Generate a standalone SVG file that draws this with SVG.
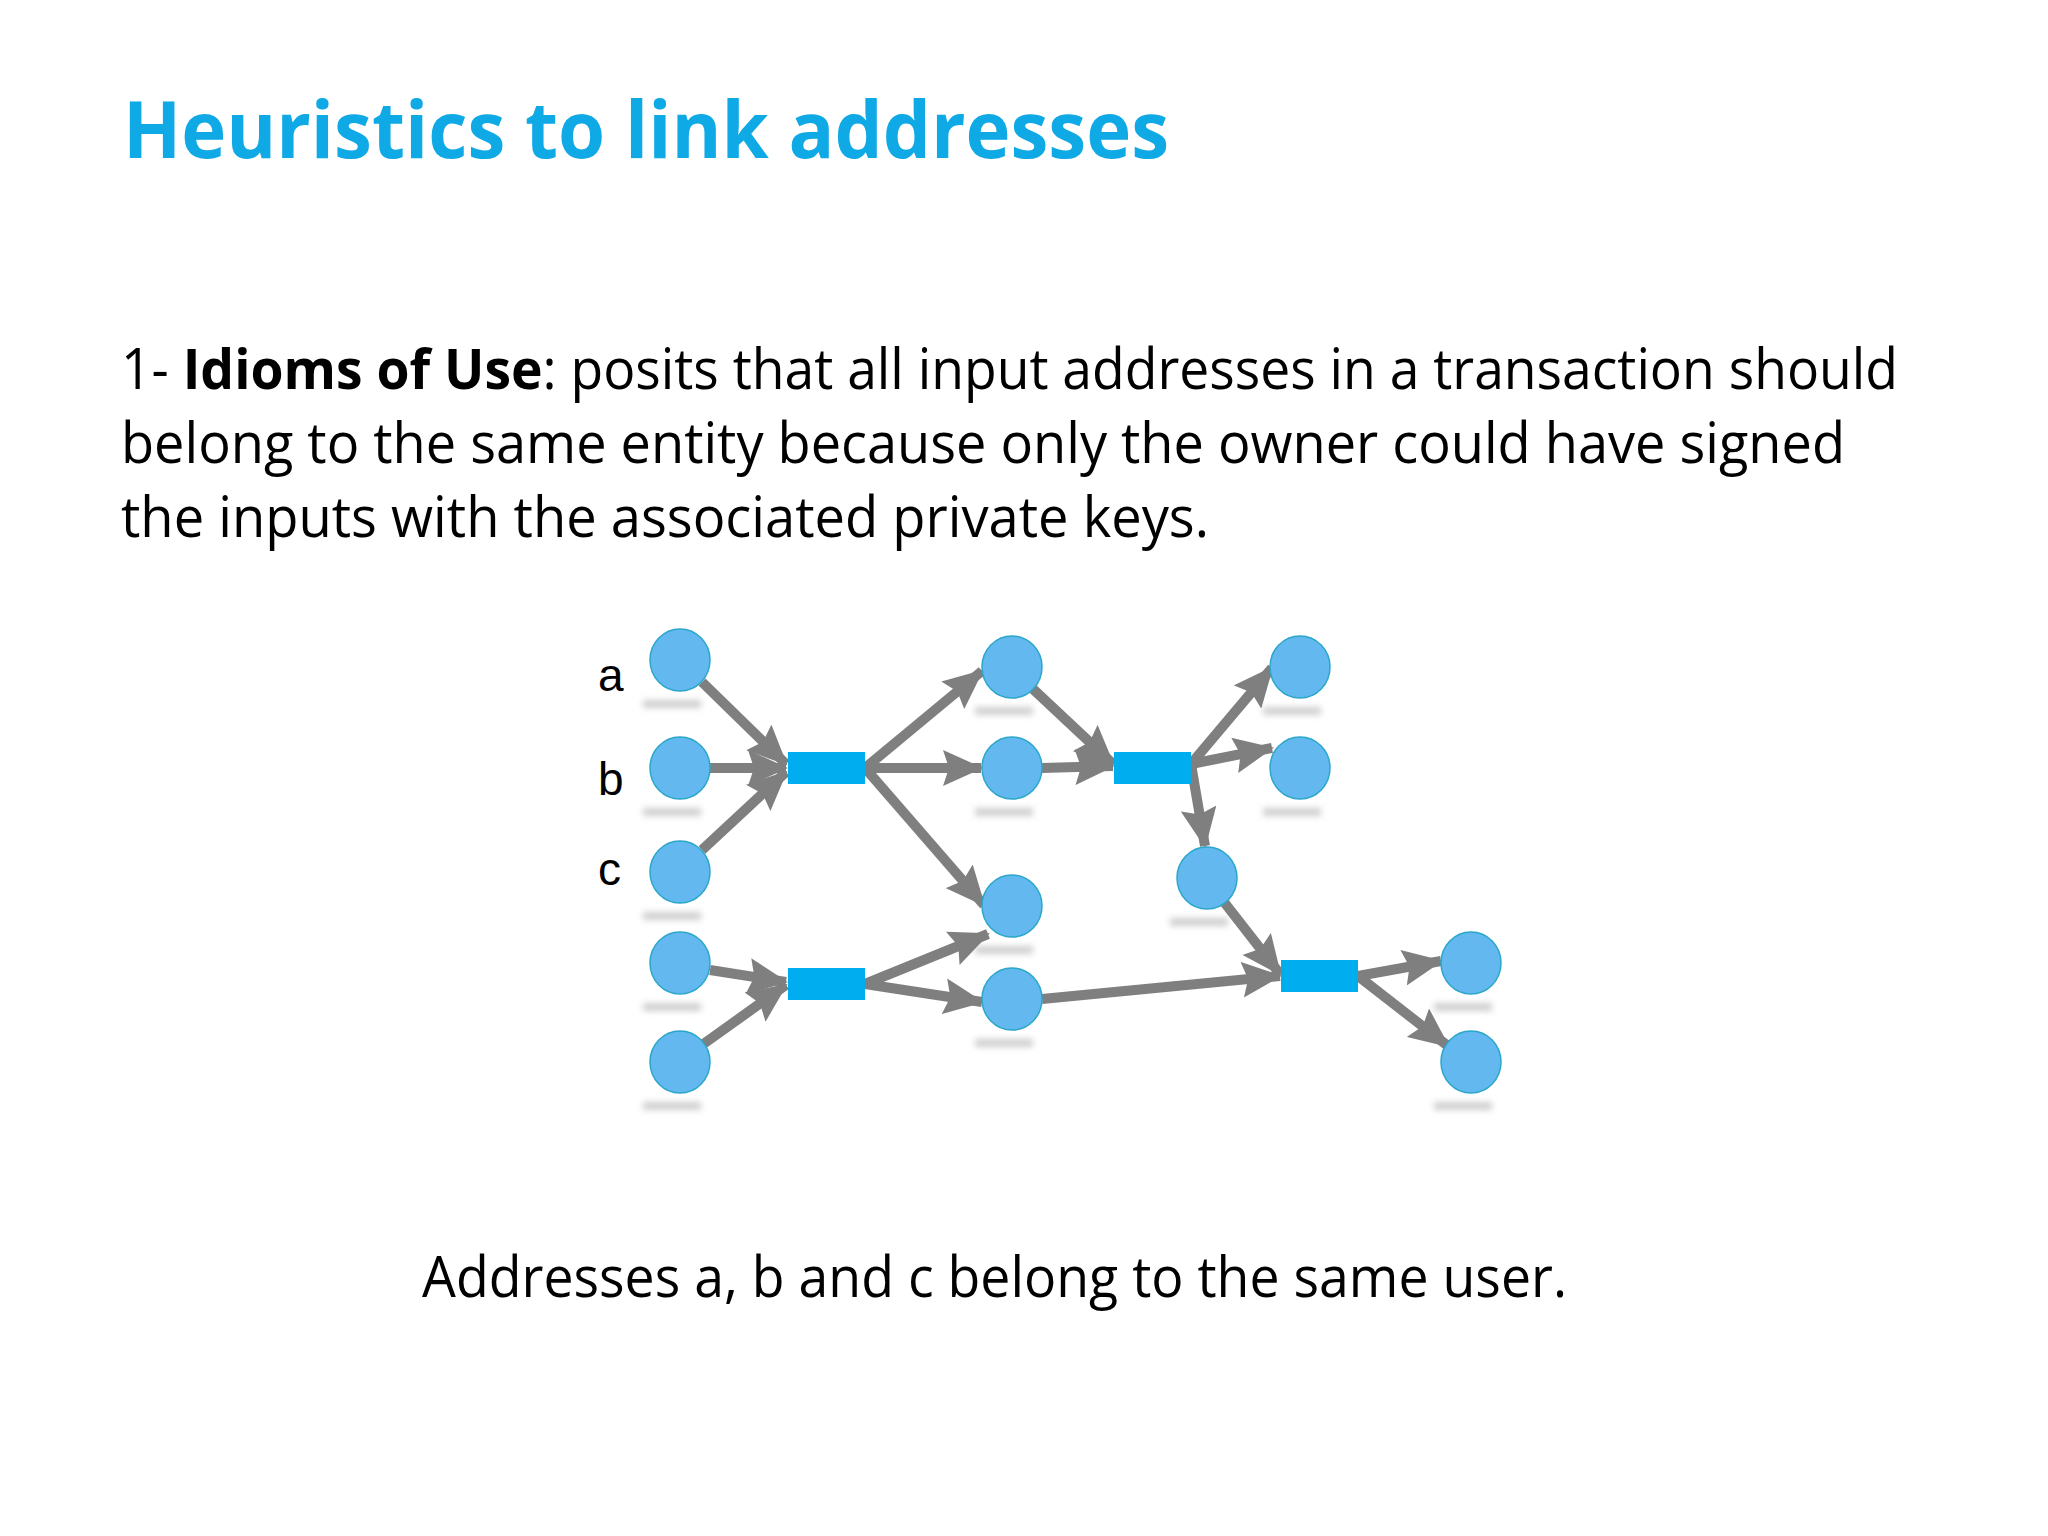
<svg xmlns="http://www.w3.org/2000/svg" width="2048" height="1536" viewBox="0 0 2048 1536">
<style>
.t{font-family:"Open Sans","Liberation Sans",sans-serif;fill:#000}
.n{fill:#63b8ef;stroke:#2aa7c9;stroke-width:1.5}
.tx{fill:#00adee}
.e{stroke:#7f7f7f;stroke-width:10;fill:none;marker-end:url(#ah)}
.sh{fill:#cfcfcf;filter:url(#bl)}
.lb{font-family:"Liberation Sans",Arial,sans-serif;font-size:46px;fill:#000}
</style>
<defs>
<marker id="ah" markerUnits="userSpaceOnUse" markerWidth="40" markerHeight="36" refX="38" refY="18" orient="auto"><path d="M0,0 L40,18 L0,36 L6,18 z" fill="#7f7f7f"/></marker>
<filter id="bl" x="-20%" y="-100%" width="140%" height="300%"><feGaussianBlur stdDeviation="3"/></filter>
</defs>
<rect width="2048" height="1536" fill="#fff"/>
<text x="123" y="158" font-family="'Open Sans','Liberation Sans',sans-serif" font-weight="bold" font-size="78" fill="#0fa9e6" textLength="1046" lengthAdjust="spacingAndGlyphs">Heuristics to link addresses</text>
<text class="t" font-size="56" x="121" y="389" textLength="1777" lengthAdjust="spacingAndGlyphs">1- <tspan font-weight="bold">Idioms of Use</tspan>: posits that all input addresses in a transaction should</text>
<text class="t" font-size="56" x="121" y="463" textLength="1724" lengthAdjust="spacingAndGlyphs">belong to the same entity because only the owner could have signed</text>
<text class="t" font-size="56" x="121" y="537" textLength="1088" lengthAdjust="spacingAndGlyphs">the inputs with the associated private keys.</text>
<text class="t" font-size="56" x="422" y="1297" textLength="1145" lengthAdjust="spacingAndGlyphs">Addresses a, b and c belong to the same user.</text>
<g id="labels">
<text class="lb" x="598" y="691">a</text>
<text class="lb" x="598" y="795">b</text>
<text class="lb" x="598" y="885">c</text>
</g>
<g id="shadows">
<rect class="sh" x="643" y="700" width="58" height="8"/><rect class="sh" x="643" y="808" width="58" height="8"/><rect class="sh" x="643" y="912" width="58" height="8"/><rect class="sh" x="643" y="1003" width="58" height="8"/><rect class="sh" x="643" y="1102" width="58" height="8"/>
<rect class="sh" x="975" y="707" width="58" height="8"/><rect class="sh" x="975" y="808" width="58" height="8"/><rect class="sh" x="975" y="946" width="58" height="8"/><rect class="sh" x="975" y="1039" width="58" height="8"/>
<rect class="sh" x="1263" y="707" width="58" height="8"/><rect class="sh" x="1263" y="808" width="58" height="8"/><rect class="sh" x="1170" y="918" width="58" height="8"/>
<rect class="sh" x="1434" y="1003" width="58" height="8"/><rect class="sh" x="1434" y="1102" width="58" height="8"/>
</g>
<g id="connectors">
<line class="e" x1="702" y1="682" x2="786" y2="764"/>
<line class="e" x1="710" y1="768" x2="786" y2="768"/>
<line class="e" x1="702" y1="850" x2="786" y2="772"/>
<line class="e" x1="865" y1="768" x2="982" y2="671"/>
<line class="e" x1="865" y1="768" x2="981" y2="768"/>
<line class="e" x1="865" y1="768" x2="984" y2="905"/>
<line class="e" x1="1033" y1="689" x2="1113" y2="764"/>
<line class="e" x1="1042" y1="768" x2="1113" y2="766"/>
<line class="e" x1="1191" y1="764" x2="1272" y2="668"/>
<line class="e" x1="1191" y1="764" x2="1272" y2="748"/>
<line class="e" x1="1191" y1="764" x2="1205" y2="846"/>
<line class="e" x1="1224" y1="902" x2="1280" y2="974"/>
<line class="e" x1="1042" y1="999" x2="1280" y2="976"/>
<line class="e" x1="1358" y1="976" x2="1441" y2="961"/>
<line class="e" x1="1358" y1="976" x2="1448" y2="1046"/>
<line class="e" x1="710" y1="970" x2="786" y2="982"/>
<line class="e" x1="702" y1="1045" x2="786" y2="985"/>
<line class="e" x1="865" y1="984" x2="988" y2="934"/>
<line class="e" x1="865" y1="984" x2="982" y2="1002"/>
</g>
<g id="tx1"><rect class="tx" x="788" y="752" width="77" height="32"/></g>
<g id="tx2"><rect class="tx" x="788" y="968" width="77" height="32"/></g>
<g id="tx3"><rect class="tx" x="1114" y="752" width="77" height="32"/></g>
<g id="tx4"><rect class="tx" x="1281" y="960" width="77" height="32"/></g>
<g id="a"><ellipse class="n" cx="680" cy="660" rx="30" ry="31"/></g>
<g id="b"><ellipse class="n" cx="680" cy="768" rx="30" ry="31"/></g>
<g id="c"><ellipse class="n" cx="680" cy="872" rx="30" ry="31"/></g>
<g id="n4"><ellipse class="n" cx="680" cy="963" rx="30" ry="31"/></g>
<g id="n5"><ellipse class="n" cx="680" cy="1062" rx="30" ry="31"/></g>
<g id="n6"><ellipse class="n" cx="1012" cy="667" rx="30" ry="31"/></g>
<g id="n7"><ellipse class="n" cx="1012" cy="768" rx="30" ry="31"/></g>
<g id="n8"><ellipse class="n" cx="1012" cy="906" rx="30" ry="31"/></g>
<g id="n9"><ellipse class="n" cx="1012" cy="999" rx="30" ry="31"/></g>
<g id="n10"><ellipse class="n" cx="1300" cy="667" rx="30" ry="31"/></g>
<g id="n11"><ellipse class="n" cx="1300" cy="768" rx="30" ry="31"/></g>
<g id="n12"><ellipse class="n" cx="1207" cy="878" rx="30" ry="31"/></g>
<g id="n13"><ellipse class="n" cx="1471" cy="963" rx="30" ry="31"/></g>
<g id="n14"><ellipse class="n" cx="1471" cy="1062" rx="30" ry="31"/></g>
</svg>
